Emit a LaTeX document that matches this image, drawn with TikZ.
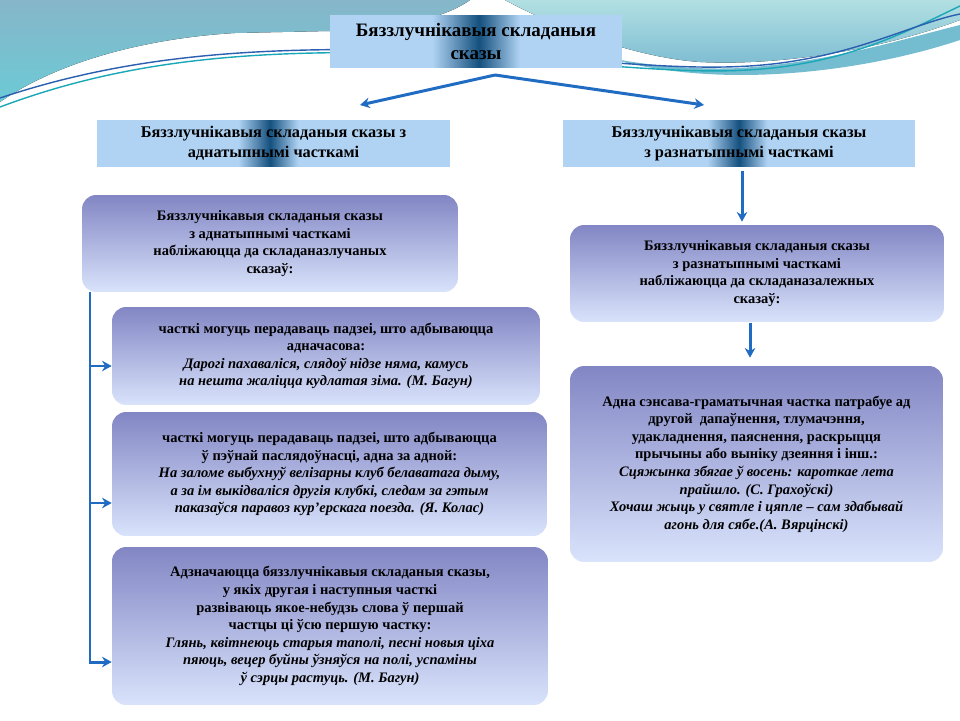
\documentclass[tikz,border=0pt]{standalone}
\usepackage{fontspec}
\setmainfont{Liberation Serif}
\usetikzlibrary{arrows.meta,calc}
\definecolor{hl}{HTML}{B0D3F4}
\definecolor{hd}{HTML}{14507E}
\definecolor{boxtop}{HTML}{8286C4}
\definecolor{boxbot}{HTML}{D9E3FB}
\definecolor{arrc}{HTML}{1F6CC2}
\definecolor{tealA}{HTML}{86B6C9}
\definecolor{tealB}{HTML}{6CCAD6}
\definecolor{tealC}{HTML}{B2E0E2}
\definecolor{tealD}{HTML}{7DBCD2}
\definecolor{tealE}{HTML}{74BCD0}
\definecolor{lineT}{HTML}{1AA8B8}
\definecolor{lineB}{HTML}{2B5FB0}
\pgfdeclarehorizontalshading{bandT}{100bp}{color(0bp)=(hl); color(42.5bp)=(hl); color(50.5bp)=(hd); color(57.5bp)=(hl); color(100bp)=(hl)}
\pgfdeclarehorizontalshading{bandL}{100bp}{color(0bp)=(hl); color(45bp)=(hl); color(49.5bp)=(hd); color(53.5bp)=(hl); color(100bp)=(hl)}
\pgfdeclarehorizontalshading{bandR}{100bp}{color(0bp)=(hl); color(45.5bp)=(hl); color(50bp)=(hd); color(54bp)=(hl); color(100bp)=(hl)}
\begin{document}
\begin{tikzpicture}[x=0.02cm,y=-0.02cm,
  hdr/.style={align=center, inner sep=0pt, font=\bfseries\fontsize{9.3}{11.3}\selectfont},
  box/.style={rounded corners=0.28cm, top color=boxtop, bottom color=boxbot, align=center, inner sep=0pt, font=\bfseries\fontsize{8.25}{10}\selectfont},
  ln/.style={draw=arrc, line width=1.7pt},
  arr/.style={ln, -{Stealth[length=5.5pt,width=6pt]}}]
\useasboundingbox (0,0) rectangle (960,720);
\fill[white] (0,0) rectangle (960,720);
% background waves
\fill[top color=tealA, bottom color=tealB] (0,0) -- (470,0) .. controls (445,18) and (400,28) .. (330,31) -- (235,33) .. controls (150,38) and (60,60) .. (0,102) -- cycle;
\fill[top color=tealC, bottom color=tealD] (505,0) -- (960,0) -- (960,20) .. controls (880,50) and (780,66) .. (700,62) .. controls (640,58) and (560,30) .. (505,0) -- cycle;
\fill[tealE] (610,58) .. controls (650,66) and (700,70) .. (740,68) .. controls (830,62) and (900,40) .. (960,25) -- (960,40) .. controls (900,60) and (820,75) .. (740,75) .. controls (690,75) and (640,68) .. (610,58) -- cycle;
\draw[lineT, line width=0.8pt] (0,107) .. controls (120,62) and (240,50) .. (400,53) .. controls (600,60) and (700,82) .. (800,64) .. controls (870,52) and (920,25) .. (960,6);
\draw[lineB, line width=0.8pt] (0,98) .. controls (120,58) and (240,47) .. (400,50) .. controls (600,57) and (700,78) .. (800,60) .. controls (870,48) and (920,22) .. (960,14);
% nodes
\node[hdr, shading=bandT, minimum width=5.84cm, minimum height=1.06cm, font=\bfseries\fontsize{10.8}{13}\selectfont] (title) at (476,41.5) {Бяззлучнікавыя складаныя\\сказы};
\node[hdr, shading=bandL, minimum width=7.06cm, minimum height=0.94cm] (lhdr) at (273.5,143.5) {Бяззлучнікавыя складаныя сказы з\\аднатыпнымі часткамі};
\node[hdr, shading=bandR, minimum width=7.04cm, minimum height=0.94cm] (rhdr) at (739,143.5) {Бяззлучнікавыя складаныя сказы\\з разнатыпнымі часткамі};
\node[box, minimum width=7.52cm, minimum height=1.94cm] (lb1) at (270,243.5) {Бяззлучнікавыя складаныя сказы\\з аднатыпнымі часткамі\\набліжаюцца да складаназлучаных\\сказаў:};
\node[box, minimum width=7.48cm, minimum height=1.94cm] (rb1) at (757,273.5) {Бяззлучнікавыя складаныя сказы\\з разнатыпнымі часткамі\\набліжаюцца да складаназалежных\\сказаў:};
\node[box, minimum width=8.56cm, minimum height=1.96cm] (lb2) at (326,356) {часткі могуць перадаваць падзеі, што адбываюцца\\адначасова:\\\itshape Дарогі пахаваліся, слядоў нідзе няма, камусь\\\itshape на нешта жаліцца кудлатая зіма. (М. Багун)};
\node[box, minimum width=8.70cm, minimum height=2.48cm] (lb3) at (329.5,474) {часткі могуць перадаваць падзеі, што адбываюцца\\ў пэўнай паслядоўнасці, адна за адной:\\\itshape На заломе выбухнуў велізарны клуб белаватага дыму,\\\itshape а за ім выкідваліся другія клубкі, следам за гэтым\\\itshape паказаўся паравоз кур’ерскага поезда. (Я. Колас)};
\node[box, minimum width=8.72cm, minimum height=3.16cm] (lb4) at (330,626) {Адзначаюцца бяззлучнікавыя складаныя сказы,\\у якіх другая і наступныя часткі\\развіваюць якое-небудзь слова ў першай\\частцы ці ўсю першую частку:\\\itshape Глянь, квітнеюць старыя таполі, песні новыя ціха\\\itshape пяюць, вецер буйны ўзняўся на полі, успаміны\\\itshape ў сэрцы растуць. (М. Багун)};
\node[box, minimum width=7.46cm, minimum height=3.92cm] (rb2) at (756.5,464) {Адна сэнсава-граматычная частка патрабуе ад\\другой\ \ дапаўнення, тлумачэння,\\удакладнення, паяснення, раскрыцця\\прычыны або выніку дзеяння і інш.:\\\itshape Сцяжынка збягае ў восень: кароткае лета\\\itshape прайшло. (С. Грахоўскі)\\\itshape Хочаш жыць у святле і цяпле – сам здабывай\\\itshape агонь для сябе.(А. Вярцінскі)};
% connectors
\coordinate (apex) at (495,75);
\coordinate (tipL) at (360,105);
\coordinate (tipR) at (704,105);
\draw[arr] (apex) -- (tipL);
\draw[arr] (apex) -- (tipR);
\draw[arr] ($(rhdr.south)+(3,4)$) -- ($(rb1.north)+(-15,-3)$);
\draw[arr] ($(rb1.south)+(-7,1)$) -- ($(rb2.north)+(-6.5,-8)$);
\coordinate (bTop) at ($(lb1.south)+(-180,0)$);
\coordinate (j2) at (90,366);
\coordinate (j3) at (90,503);
\coordinate (j4) at (90,662);
\draw[arr] (bTop) -- (j4) -- (j4 -| lb4.west);
\draw[arr] (j2) -- (j2 -| lb2.west);
\draw[arr] (j3) -- (j3 -| lb3.west);
\end{tikzpicture}
\end{document}
